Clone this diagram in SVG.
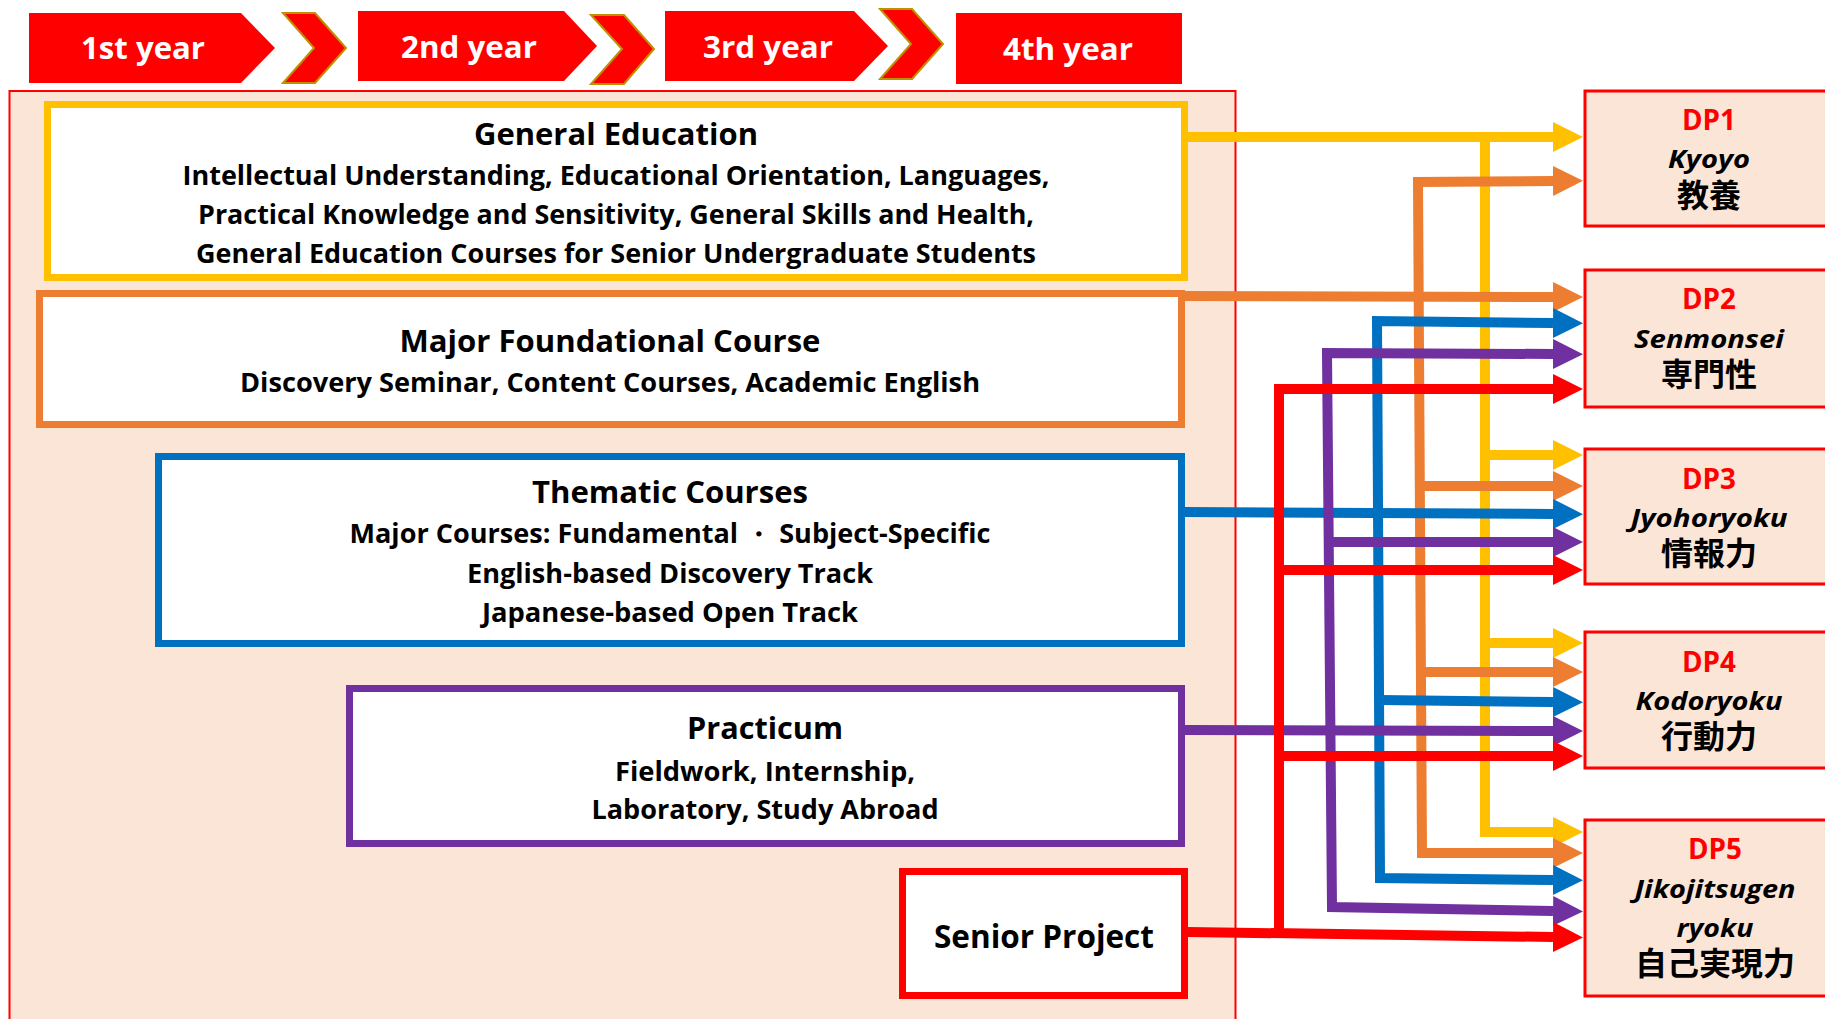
<svg xmlns="http://www.w3.org/2000/svg" width="1825" height="1019" viewBox="0 0 1825 1019">
<style>
.t{font-family:"Open Sans","Noto Sans",sans-serif;font-weight:700;text-anchor:middle;fill:#000}
.ttl{font-size:31px}
.bd{font-size:26px}
.yr{font-size:31px;fill:#fff}
.dpl{font-size:28px;fill:#FF0000}
.rom{font-size:25px;font-style:italic}
.jp{font-family:"Noto Sans CJK JP","Noto Sans CJK SC",sans-serif;font-weight:700;font-size:32px;text-anchor:middle;fill:#000}
.ban{fill:#FF0000}
.chev{fill:#FF0000;stroke:#BF9000;stroke-width:2}
.dp{fill:#FBE5D6;stroke:#FF0000;stroke-width:3}
.box{fill:#fff;stroke-width:7}
.c{fill:none;stroke-width:10;stroke-linejoin:miter;stroke-linecap:butt}
.cy{stroke:#FFC000}.co{stroke:#ED7D31}.cb{stroke:#0070C0}.cp{stroke:#7030A0}.cr{stroke:#FF0000}
</style>
<defs>
<marker id="my" viewBox="0 0 10 10" refX="0" refY="5" markerWidth="3" markerHeight="3" orient="auto-start-reverse"><path d="M0,0L10,5L0,10z" fill="#FFC000"/></marker>
<marker id="mo" viewBox="0 0 10 10" refX="0" refY="5" markerWidth="3" markerHeight="3" orient="auto-start-reverse"><path d="M0,0L10,5L0,10z" fill="#ED7D31"/></marker>
<marker id="mb" viewBox="0 0 10 10" refX="0" refY="5" markerWidth="3" markerHeight="3" orient="auto-start-reverse"><path d="M0,0L10,5L0,10z" fill="#0070C0"/></marker>
<marker id="mp" viewBox="0 0 10 10" refX="0" refY="5" markerWidth="3" markerHeight="3" orient="auto-start-reverse"><path d="M0,0L10,5L0,10z" fill="#7030A0"/></marker>
<marker id="mr" viewBox="0 0 10 10" refX="0" refY="5" markerWidth="3" markerHeight="3" orient="auto-start-reverse"><path d="M0,0L10,5L0,10z" fill="#FF0000"/></marker>
</defs>
<rect width="1825" height="1019" fill="#fff"/>

<g id="years">
<g id="year1"><polygon class="ban" points="29,13 241,13 275,48 241,83 29,83"/><text class="t yr" x="143" y="59" textLength="124" lengthAdjust="spacingAndGlyphs">1st year</text></g>
<polygon class="chev" points="283,13 315,13 346,48 315,83 283,83 314,48"/>
<g id="year2"><polygon class="ban" points="358,11 564,11 597,46 564,81 358,81"/><text class="t yr" x="469" y="58" textLength="136" lengthAdjust="spacingAndGlyphs">2nd year</text></g>
<polygon class="chev" points="591,15 624,15 654,49 624,84 591,84 622,49"/>
<g id="year3"><polygon class="ban" points="665,11 854,11 888,46 854,81 665,81"/><text class="t yr" x="768" y="58" textLength="130" lengthAdjust="spacingAndGlyphs">3rd year</text></g>
<polygon class="chev" points="880,9 912,9 943,44 912,79 880,79 911,44"/>
<g id="year4"><rect class="ban" x="956" y="13" width="226" height="71"/><text class="t yr" x="1068" y="60" textLength="130" lengthAdjust="spacingAndGlyphs">4th year</text></g>
</g>

<rect id="container" x="9.5" y="91" width="1226" height="1000" fill="#FBE5D6" stroke="#FF0000" stroke-width="2"/>

<g id="general-education">
<rect class="box" stroke="#FFC000" x="47.5" y="104.5" width="1137" height="173"/>
<text class="t ttl" x="616" y="145" textLength="284" lengthAdjust="spacingAndGlyphs">General Education</text>
<text class="t bd" x="616" y="185" textLength="867" lengthAdjust="spacingAndGlyphs">Intellectual Understanding, Educational Orientation, Languages,</text>
<text class="t bd" x="616" y="224" textLength="836" lengthAdjust="spacingAndGlyphs">Practical Knowledge and Sensitivity, General Skills and Health,</text>
<text class="t bd" x="616" y="263" textLength="840" lengthAdjust="spacingAndGlyphs">General Education Courses for Senior Undergraduate Students</text>
</g>

<g id="major-foundational">
<rect class="box" stroke="#ED7D31" x="39.5" y="293.5" width="1142" height="131"/>
<text class="t ttl" x="610" y="352" textLength="421" lengthAdjust="spacingAndGlyphs">Major Foundational Course</text>
<text class="t bd" x="610" y="392" textLength="740" lengthAdjust="spacingAndGlyphs">Discovery Seminar, Content Courses, Academic English</text>
</g>

<g id="thematic">
<rect class="box" stroke="#0070C0" x="158.5" y="456.5" width="1023" height="187"/>
<text class="t ttl" x="670" y="503" textLength="276" lengthAdjust="spacingAndGlyphs">Thematic Courses</text>
<text class="t bd" x="670" y="543" textLength="641" lengthAdjust="spacingAndGlyphs">Major Courses: Fundamental ・ Subject-Specific</text>
<text class="t bd" x="670" y="583" textLength="406" lengthAdjust="spacingAndGlyphs">English-based Discovery Track</text>
<text class="t bd" x="670" y="622" textLength="376" lengthAdjust="spacingAndGlyphs">Japanese-based Open Track</text>
</g>

<g id="practicum">
<rect class="box" stroke="#7030A0" x="349.5" y="688.5" width="832" height="155"/>
<text class="t ttl" x="765" y="739" textLength="156" lengthAdjust="spacingAndGlyphs">Practicum</text>
<text class="t bd" x="765" y="781" textLength="300" lengthAdjust="spacingAndGlyphs">Fieldwork, Internship,</text>
<text class="t bd" x="765" y="819" textLength="347" lengthAdjust="spacingAndGlyphs">Laboratory, Study Abroad</text>
</g>

<g id="senior-project">
<rect class="box" stroke="#FF0000" x="902.5" y="871.5" width="282" height="124"/>
<text class="t" style="font-size:32px" x="1044" y="948" textLength="220" lengthAdjust="spacingAndGlyphs">Senior Project</text>
</g>

<g id="dp1">
<rect class="dp" x="1585" y="91" width="260" height="135"/>
<text class="t dpl" x="1709" y="130" textLength="54" lengthAdjust="spacingAndGlyphs">DP1</text>
<text class="t rom" x="1709" y="168" textLength="82" lengthAdjust="spacingAndGlyphs">Kyoyo</text>
<text class="jp" x="1709" y="207">教養</text>
</g>
<g id="dp2">
<rect class="dp" x="1585" y="270" width="260" height="137"/>
<text class="t dpl" x="1709" y="309" textLength="54" lengthAdjust="spacingAndGlyphs">DP2</text>
<text class="t rom" x="1709" y="348" textLength="150" lengthAdjust="spacingAndGlyphs">Senmonsei</text>
<text class="jp" x="1709" y="386">専門性</text>
</g>
<g id="dp3">
<rect class="dp" x="1585" y="449" width="260" height="135"/>
<text class="t dpl" x="1709" y="489" textLength="54" lengthAdjust="spacingAndGlyphs">DP3</text>
<text class="t rom" x="1709" y="527" textLength="157" lengthAdjust="spacingAndGlyphs">Jyohoryoku</text>
<text class="jp" x="1709" y="565">情報力</text>
</g>
<g id="dp4">
<rect class="dp" x="1585" y="632" width="260" height="136"/>
<text class="t dpl" x="1709" y="672" textLength="54" lengthAdjust="spacingAndGlyphs">DP4</text>
<text class="t rom" x="1709" y="710" textLength="147" lengthAdjust="spacingAndGlyphs">Kodoryoku</text>
<text class="jp" x="1709" y="748">行動力</text>
</g>
<g id="dp5">
<rect class="dp" x="1585" y="820" width="260" height="176"/>
<text class="t dpl" x="1715" y="859" textLength="54" lengthAdjust="spacingAndGlyphs">DP5</text>
<text class="t rom" x="1715" y="898" textLength="161" lengthAdjust="spacingAndGlyphs">Jikojitsugen</text>
<text class="t rom" x="1715" y="937" textLength="77" lengthAdjust="spacingAndGlyphs">ryoku</text>
<text class="jp" x="1715" y="975">自己実現力</text>
</g>

<g id="connectors">
<path class="c cy" d="M1188,137 L1553,137" marker-end="url(#my)"/>
<path class="c cy" d="M1485,137 L1485,832 L1553,832" marker-end="url(#my)"/>
<path class="c cy" d="M1485,455 L1553,455" marker-end="url(#my)"/>
<path class="c cy" d="M1485,643 L1553,643" marker-end="url(#my)"/>
<path class="c co" d="M1180,296 L1553,297" marker-end="url(#mo)"/>
<path class="c co" d="M1553,181 L1418,182 L1422,853 L1553,853" marker-start="url(#mo)" marker-end="url(#mo)"/>
<path class="c co" d="M1419,486 L1553,486" marker-end="url(#mo)"/>
<path class="c co" d="M1420,672 L1553,672" marker-end="url(#mo)"/>
<path class="c cb" d="M1185,512 L1553,514" marker-end="url(#mb)"/>
<path class="c cb" d="M1553,323 L1377,321 L1380,878 L1553,880" marker-start="url(#mb)" marker-end="url(#mb)"/>
<path class="c cb" d="M1379,700 L1553,702" marker-end="url(#mb)"/>
<path class="c cp" d="M1185,730 L1553,731" marker-end="url(#mp)"/>
<path class="c cp" d="M1553,354 L1327,353 L1332,907 L1553,911" marker-start="url(#mp)" marker-end="url(#mp)"/>
<path class="c cp" d="M1329,542 L1553,542" marker-end="url(#mp)"/>
<path class="c cr" d="M1188,932 L1553,937" marker-end="url(#mr)"/>
<path class="c cr" d="M1553,389 L1279,389 L1279,932" marker-start="url(#mr)"/>
<path class="c cr" d="M1279,570 L1553,570" marker-end="url(#mr)"/>
<path class="c cr" d="M1279,756 L1553,756" marker-end="url(#mr)"/>
</g>
</svg>
